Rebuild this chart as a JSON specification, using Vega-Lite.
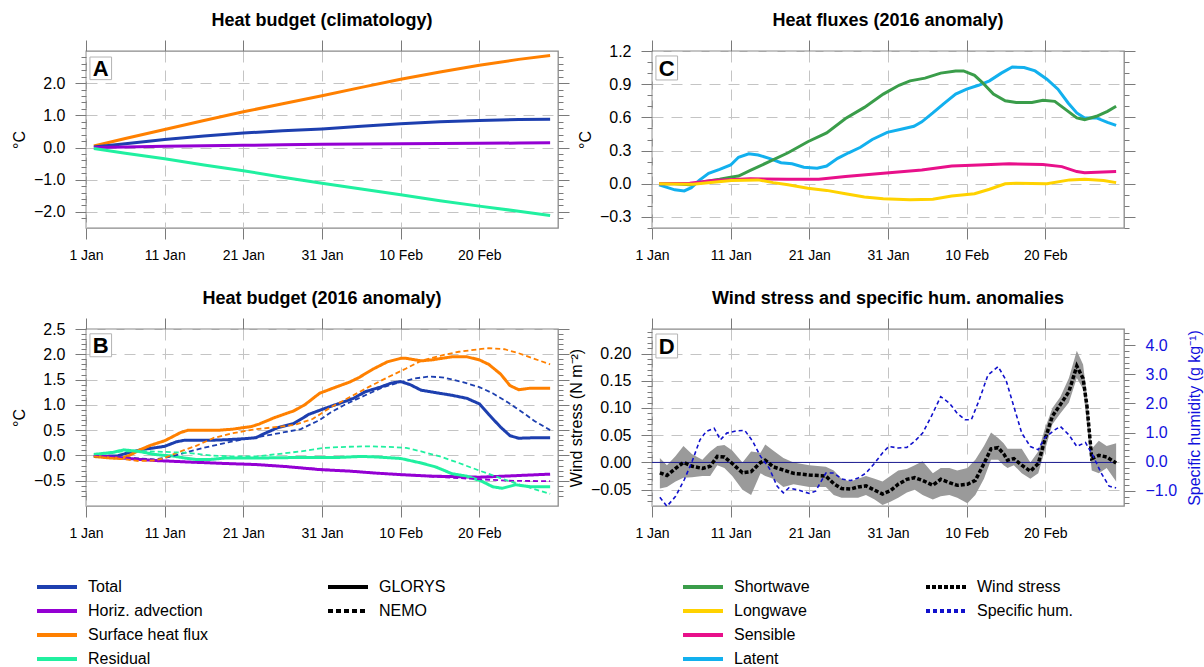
{
 "$schema": "https://vega.github.io/schema/vega-lite/v6.json",
 "background": "white",
 "padding": {"left": 10, "top": 10, "right": 0, "bottom": 0},
 "columns": 2,
 "bounds": "flush",
 "spacing": {"row": 101, "column": 94},
 "datasets": {
  "clim": [
   {"day":1,"value":0.05,"series":"Surface heat flux"},{"day":5,"value":0.28,"series":"Surface heat flux"},{"day":10,"value":0.56,"series":"Surface heat flux"},{"day":15,"value":0.84,"series":"Surface heat flux"},{"day":20,"value":1.11,"series":"Surface heat flux"},{"day":25,"value":1.36,"series":"Surface heat flux"},{"day":30,"value":1.61,"series":"Surface heat flux"},{"day":35,"value":1.87,"series":"Surface heat flux"},{"day":40,"value":2.12,"series":"Surface heat flux"},{"day":45,"value":2.35,"series":"Surface heat flux"},{"day":50,"value":2.56,"series":"Surface heat flux"},{"day":55,"value":2.74,"series":"Surface heat flux"},{"day":59,"value":2.86,"series":"Surface heat flux"},
   {"day":1,"value":0.02,"series":"Total"},{"day":5,"value":0.12,"series":"Total"},{"day":10,"value":0.25,"series":"Total"},{"day":15,"value":0.36,"series":"Total"},{"day":20,"value":0.45,"series":"Total"},{"day":25,"value":0.52,"series":"Total"},{"day":30,"value":0.58,"series":"Total"},{"day":35,"value":0.66,"series":"Total"},{"day":40,"value":0.74,"series":"Total"},{"day":45,"value":0.8,"series":"Total"},{"day":50,"value":0.84,"series":"Total"},{"day":55,"value":0.87,"series":"Total"},{"day":59,"value":0.88,"series":"Total"},
   {"day":1,"value":0.0,"series":"Horiz. advection"},{"day":5,"value":0.02,"series":"Horiz. advection"},{"day":10,"value":0.04,"series":"Horiz. advection"},{"day":15,"value":0.055,"series":"Horiz. advection"},{"day":20,"value":0.07,"series":"Horiz. advection"},{"day":25,"value":0.085,"series":"Horiz. advection"},{"day":30,"value":0.1,"series":"Horiz. advection"},{"day":35,"value":0.11,"series":"Horiz. advection"},{"day":40,"value":0.12,"series":"Horiz. advection"},{"day":45,"value":0.125,"series":"Horiz. advection"},{"day":50,"value":0.13,"series":"Horiz. advection"},{"day":55,"value":0.14,"series":"Horiz. advection"},{"day":59,"value":0.15,"series":"Horiz. advection"},
   {"day":1,"value":-0.03,"series":"Residual"},{"day":5,"value":-0.18,"series":"Residual"},{"day":10,"value":-0.35,"series":"Residual"},{"day":15,"value":-0.54,"series":"Residual"},{"day":20,"value":-0.72,"series":"Residual"},{"day":25,"value":-0.92,"series":"Residual"},{"day":30,"value":-1.11,"series":"Residual"},{"day":35,"value":-1.29,"series":"Residual"},{"day":40,"value":-1.47,"series":"Residual"},{"day":45,"value":-1.65,"series":"Residual"},{"day":50,"value":-1.82,"series":"Residual"},{"day":55,"value":-1.98,"series":"Residual"},{"day":59,"value":-2.11,"series":"Residual"}
  ],
  "anom": [
   {"day":1,"value":-0.02,"series":"Total","model":"GLORYS"},{"day":4,"value":-0.01,"series":"Total","model":"GLORYS"},{"day":5.3,"value":0.05,"series":"Total","model":"GLORYS"},{"day":7.2,"value":0.12,"series":"Total","model":"GLORYS"},{"day":8.7,"value":0.15,"series":"Total","model":"GLORYS"},{"day":10,"value":0.18,"series":"Total","model":"GLORYS"},{"day":11.5,"value":0.27,"series":"Total","model":"GLORYS"},{"day":12.5,"value":0.3,"series":"Total","model":"GLORYS"},{"day":14,"value":0.3,"series":"Total","model":"GLORYS"},{"day":16,"value":0.3,"series":"Total","model":"GLORYS"},{"day":17.8,"value":0.31,"series":"Total","model":"GLORYS"},{"day":20,"value":0.33,"series":"Total","model":"GLORYS"},{"day":21.6,"value":0.35,"series":"Total","model":"GLORYS"},{"day":22.5,"value":0.42,"series":"Total","model":"GLORYS"},{"day":24.4,"value":0.55,"series":"Total","model":"GLORYS"},{"day":26.4,"value":0.63,"series":"Total","model":"GLORYS"},{"day":28.3,"value":0.81,"series":"Total","model":"GLORYS"},{"day":30,"value":0.91,"series":"Total","model":"GLORYS"},{"day":31.1,"value":0.97,"series":"Total","model":"GLORYS"},{"day":32.6,"value":1.05,"series":"Total","model":"GLORYS"},{"day":34,"value":1.13,"series":"Total","model":"GLORYS"},{"day":35.5,"value":1.26,"series":"Total","model":"GLORYS"},{"day":37.4,"value":1.35,"series":"Total","model":"GLORYS"},{"day":38.8,"value":1.43,"series":"Total","model":"GLORYS"},{"day":40,"value":1.46,"series":"Total","model":"GLORYS"},{"day":41.2,"value":1.4,"series":"Total","model":"GLORYS"},{"day":42.6,"value":1.29,"series":"Total","model":"GLORYS"},{"day":44.5,"value":1.24,"series":"Total","model":"GLORYS"},{"day":46.5,"value":1.19,"series":"Total","model":"GLORYS"},{"day":48.4,"value":1.13,"series":"Total","model":"GLORYS"},{"day":50,"value":1.02,"series":"Total","model":"GLORYS"},{"day":51.2,"value":0.81,"series":"Total","model":"GLORYS"},{"day":52.7,"value":0.56,"series":"Total","model":"GLORYS"},{"day":53.9,"value":0.39,"series":"Total","model":"GLORYS"},{"day":55,"value":0.34,"series":"Total","model":"GLORYS"},{"day":57,"value":0.35,"series":"Total","model":"GLORYS"},{"day":59,"value":0.35,"series":"Total","model":"GLORYS"},
   {"day":1,"value":0.0,"series":"Horiz. advection","model":"GLORYS"},{"day":4.4,"value":-0.05,"series":"Horiz. advection","model":"GLORYS"},{"day":8.7,"value":-0.1,"series":"Horiz. advection","model":"GLORYS"},{"day":13,"value":-0.13,"series":"Horiz. advection","model":"GLORYS"},{"day":17.8,"value":-0.16,"series":"Horiz. advection","model":"GLORYS"},{"day":21.6,"value":-0.18,"series":"Horiz. advection","model":"GLORYS"},{"day":25.4,"value":-0.22,"series":"Horiz. advection","model":"GLORYS"},{"day":29.7,"value":-0.28,"series":"Horiz. advection","model":"GLORYS"},{"day":33.5,"value":-0.31,"series":"Horiz. advection","model":"GLORYS"},{"day":36.9,"value":-0.35,"series":"Horiz. advection","model":"GLORYS"},{"day":40,"value":-0.38,"series":"Horiz. advection","model":"GLORYS"},{"day":44,"value":-0.41,"series":"Horiz. advection","model":"GLORYS"},{"day":50,"value":-0.43,"series":"Horiz. advection","model":"GLORYS"},{"day":54.6,"value":-0.4,"series":"Horiz. advection","model":"GLORYS"},{"day":59,"value":-0.37,"series":"Horiz. advection","model":"GLORYS"},
   {"day":1,"value":-0.02,"series":"Surface heat flux","model":"GLORYS"},{"day":3,"value":-0.05,"series":"Surface heat flux","model":"GLORYS"},{"day":4.5,"value":-0.06,"series":"Surface heat flux","model":"GLORYS"},{"day":5.5,"value":0.0,"series":"Surface heat flux","model":"GLORYS"},{"day":6.7,"value":0.1,"series":"Surface heat flux","model":"GLORYS"},{"day":8.2,"value":0.2,"series":"Surface heat flux","model":"GLORYS"},{"day":10,"value":0.29,"series":"Surface heat flux","model":"GLORYS"},{"day":12,"value":0.45,"series":"Surface heat flux","model":"GLORYS"},{"day":13,"value":0.5,"series":"Surface heat flux","model":"GLORYS"},{"day":14.5,"value":0.5,"series":"Surface heat flux","model":"GLORYS"},{"day":17,"value":0.5,"series":"Surface heat flux","model":"GLORYS"},{"day":18.7,"value":0.52,"series":"Surface heat flux","model":"GLORYS"},{"day":20,"value":0.55,"series":"Surface heat flux","model":"GLORYS"},{"day":21,"value":0.57,"series":"Surface heat flux","model":"GLORYS"},{"day":22,"value":0.62,"series":"Surface heat flux","model":"GLORYS"},{"day":24,"value":0.75,"series":"Surface heat flux","model":"GLORYS"},{"day":26.4,"value":0.88,"series":"Surface heat flux","model":"GLORYS"},{"day":27.8,"value":1.0,"series":"Surface heat flux","model":"GLORYS"},{"day":29.7,"value":1.23,"series":"Surface heat flux","model":"GLORYS"},{"day":31.4,"value":1.33,"series":"Surface heat flux","model":"GLORYS"},{"day":33.5,"value":1.45,"series":"Surface heat flux","model":"GLORYS"},{"day":34.7,"value":1.54,"series":"Surface heat flux","model":"GLORYS"},{"day":36.4,"value":1.7,"series":"Surface heat flux","model":"GLORYS"},{"day":38.3,"value":1.85,"series":"Surface heat flux","model":"GLORYS"},{"day":40,"value":1.92,"series":"Surface heat flux","model":"GLORYS"},{"day":40.7,"value":1.92,"series":"Surface heat flux","model":"GLORYS"},{"day":42.6,"value":1.87,"series":"Surface heat flux","model":"GLORYS"},{"day":44,"value":1.89,"series":"Surface heat flux","model":"GLORYS"},{"day":46.5,"value":1.95,"series":"Surface heat flux","model":"GLORYS"},{"day":48.4,"value":1.95,"series":"Surface heat flux","model":"GLORYS"},{"day":50,"value":1.89,"series":"Surface heat flux","model":"GLORYS"},{"day":51.2,"value":1.8,"series":"Surface heat flux","model":"GLORYS"},{"day":52.7,"value":1.61,"series":"Surface heat flux","model":"GLORYS"},{"day":53.9,"value":1.38,"series":"Surface heat flux","model":"GLORYS"},{"day":55,"value":1.3,"series":"Surface heat flux","model":"GLORYS"},{"day":56.5,"value":1.33,"series":"Surface heat flux","model":"GLORYS"},{"day":59,"value":1.33,"series":"Surface heat flux","model":"GLORYS"},
   {"day":1,"value":0.02,"series":"Residual","model":"GLORYS"},{"day":3.4,"value":0.06,"series":"Residual","model":"GLORYS"},{"day":4.8,"value":0.11,"series":"Residual","model":"GLORYS"},{"day":6.7,"value":0.08,"series":"Residual","model":"GLORYS"},{"day":7.7,"value":0.05,"series":"Residual","model":"GLORYS"},{"day":8.7,"value":0.02,"series":"Residual","model":"GLORYS"},{"day":10,"value":0.0,"series":"Residual","model":"GLORYS"},{"day":11,"value":-0.01,"series":"Residual","model":"GLORYS"},{"day":12.5,"value":-0.05,"series":"Residual","model":"GLORYS"},{"day":14,"value":-0.08,"series":"Residual","model":"GLORYS"},{"day":15.8,"value":-0.08,"series":"Residual","model":"GLORYS"},{"day":17.8,"value":-0.05,"series":"Residual","model":"GLORYS"},{"day":22.5,"value":-0.05,"series":"Residual","model":"GLORYS"},{"day":27.3,"value":-0.04,"series":"Residual","model":"GLORYS"},{"day":32.1,"value":-0.04,"series":"Residual","model":"GLORYS"},{"day":35,"value":-0.02,"series":"Residual","model":"GLORYS"},{"day":36.9,"value":-0.03,"series":"Residual","model":"GLORYS"},{"day":40,"value":-0.06,"series":"Residual","model":"GLORYS"},{"day":42.6,"value":-0.15,"series":"Residual","model":"GLORYS"},{"day":44.5,"value":-0.23,"series":"Residual","model":"GLORYS"},{"day":46.5,"value":-0.36,"series":"Residual","model":"GLORYS"},{"day":48.4,"value":-0.41,"series":"Residual","model":"GLORYS"},{"day":50.3,"value":-0.51,"series":"Residual","model":"GLORYS"},{"day":51.7,"value":-0.62,"series":"Residual","model":"GLORYS"},{"day":52.9,"value":-0.65,"series":"Residual","model":"GLORYS"},{"day":54.6,"value":-0.58,"series":"Residual","model":"GLORYS"},{"day":56.5,"value":-0.62,"series":"Residual","model":"GLORYS"},{"day":59,"value":-0.62,"series":"Residual","model":"GLORYS"},
   {"day":1,"value":-0.02,"series":"Total","model":"NEMO"},{"day":5.8,"value":-0.05,"series":"Total","model":"NEMO"},{"day":8.7,"value":-0.08,"series":"Total","model":"NEMO"},{"day":10.6,"value":-0.03,"series":"Total","model":"NEMO"},{"day":12.5,"value":0.05,"series":"Total","model":"NEMO"},{"day":14.9,"value":0.15,"series":"Total","model":"NEMO"},{"day":17.8,"value":0.25,"series":"Total","model":"NEMO"},{"day":20.1,"value":0.32,"series":"Total","model":"NEMO"},{"day":22.5,"value":0.38,"series":"Total","model":"NEMO"},{"day":24.9,"value":0.45,"series":"Total","model":"NEMO"},{"day":27.3,"value":0.52,"series":"Total","model":"NEMO"},{"day":29.7,"value":0.7,"series":"Total","model":"NEMO"},{"day":31.1,"value":0.85,"series":"Total","model":"NEMO"},{"day":33.1,"value":1.02,"series":"Total","model":"NEMO"},{"day":35.5,"value":1.19,"series":"Total","model":"NEMO"},{"day":37.8,"value":1.35,"series":"Total","model":"NEMO"},{"day":40,"value":1.45,"series":"Total","model":"NEMO"},{"day":41.7,"value":1.52,"series":"Total","model":"NEMO"},{"day":43.6,"value":1.56,"series":"Total","model":"NEMO"},{"day":45.5,"value":1.54,"series":"Total","model":"NEMO"},{"day":47.9,"value":1.45,"series":"Total","model":"NEMO"},{"day":50,"value":1.35,"series":"Total","model":"NEMO"},{"day":51.7,"value":1.23,"series":"Total","model":"NEMO"},{"day":53.6,"value":1.05,"series":"Total","model":"NEMO"},{"day":55.6,"value":0.84,"series":"Total","model":"NEMO"},{"day":57,"value":0.68,"series":"Total","model":"NEMO"},{"day":59,"value":0.5,"series":"Total","model":"NEMO"},
   {"day":1,"value":0.0,"series":"Horiz. advection","model":"NEMO"},{"day":5,"value":-0.05,"series":"Horiz. advection","model":"NEMO"},{"day":8.7,"value":-0.09,"series":"Horiz. advection","model":"NEMO"},{"day":13,"value":-0.13,"series":"Horiz. advection","model":"NEMO"},{"day":17.8,"value":-0.16,"series":"Horiz. advection","model":"NEMO"},{"day":21.6,"value":-0.18,"series":"Horiz. advection","model":"NEMO"},{"day":25.4,"value":-0.22,"series":"Horiz. advection","model":"NEMO"},{"day":29.7,"value":-0.27,"series":"Horiz. advection","model":"NEMO"},{"day":33.5,"value":-0.31,"series":"Horiz. advection","model":"NEMO"},{"day":36.9,"value":-0.35,"series":"Horiz. advection","model":"NEMO"},{"day":40,"value":-0.38,"series":"Horiz. advection","model":"NEMO"},{"day":44,"value":-0.42,"series":"Horiz. advection","model":"NEMO"},{"day":50,"value":-0.47,"series":"Horiz. advection","model":"NEMO"},{"day":53.6,"value":-0.5,"series":"Horiz. advection","model":"NEMO"},{"day":59,"value":-0.51,"series":"Horiz. advection","model":"NEMO"},
   {"day":1,"value":-0.02,"series":"Surface heat flux","model":"NEMO"},{"day":4,"value":-0.06,"series":"Surface heat flux","model":"NEMO"},{"day":6.7,"value":-0.11,"series":"Surface heat flux","model":"NEMO"},{"day":8.7,"value":-0.1,"series":"Surface heat flux","model":"NEMO"},{"day":10,"value":-0.05,"series":"Surface heat flux","model":"NEMO"},{"day":11.5,"value":0.05,"series":"Surface heat flux","model":"NEMO"},{"day":14,"value":0.19,"series":"Surface heat flux","model":"NEMO"},{"day":16.3,"value":0.35,"series":"Surface heat flux","model":"NEMO"},{"day":18.7,"value":0.44,"series":"Surface heat flux","model":"NEMO"},{"day":21.6,"value":0.52,"series":"Surface heat flux","model":"NEMO"},{"day":23.5,"value":0.55,"series":"Surface heat flux","model":"NEMO"},{"day":26.4,"value":0.6,"series":"Surface heat flux","model":"NEMO"},{"day":28.8,"value":0.72,"series":"Surface heat flux","model":"NEMO"},{"day":31.1,"value":0.95,"series":"Surface heat flux","model":"NEMO"},{"day":33.5,"value":1.15,"series":"Surface heat flux","model":"NEMO"},{"day":35.9,"value":1.35,"series":"Surface heat flux","model":"NEMO"},{"day":38.3,"value":1.54,"series":"Surface heat flux","model":"NEMO"},{"day":40.7,"value":1.72,"series":"Surface heat flux","model":"NEMO"},{"day":42.6,"value":1.87,"series":"Surface heat flux","model":"NEMO"},{"day":45.5,"value":1.99,"series":"Surface heat flux","model":"NEMO"},{"day":47.4,"value":2.05,"series":"Surface heat flux","model":"NEMO"},{"day":50,"value":2.1,"series":"Surface heat flux","model":"NEMO"},{"day":51.2,"value":2.12,"series":"Surface heat flux","model":"NEMO"},{"day":53.2,"value":2.1,"series":"Surface heat flux","model":"NEMO"},{"day":55,"value":2.02,"series":"Surface heat flux","model":"NEMO"},{"day":57,"value":1.91,"series":"Surface heat flux","model":"NEMO"},{"day":59,"value":1.8,"series":"Surface heat flux","model":"NEMO"},
   {"day":1,"value":0.02,"series":"Residual","model":"NEMO"},{"day":3.4,"value":0.06,"series":"Residual","model":"NEMO"},{"day":4.8,"value":0.08,"series":"Residual","model":"NEMO"},{"day":8.2,"value":0.08,"series":"Residual","model":"NEMO"},{"day":10,"value":0.07,"series":"Residual","model":"NEMO"},{"day":13,"value":0.05,"series":"Residual","model":"NEMO"},{"day":15.8,"value":0.0,"series":"Residual","model":"NEMO"},{"day":18.7,"value":-0.02,"series":"Residual","model":"NEMO"},{"day":21.6,"value":-0.02,"series":"Residual","model":"NEMO"},{"day":24,"value":0.02,"series":"Residual","model":"NEMO"},{"day":27.3,"value":0.08,"series":"Residual","model":"NEMO"},{"day":30.2,"value":0.15,"series":"Residual","model":"NEMO"},{"day":33.1,"value":0.17,"series":"Residual","model":"NEMO"},{"day":35.9,"value":0.18,"series":"Residual","model":"NEMO"},{"day":38.3,"value":0.17,"series":"Residual","model":"NEMO"},{"day":40.7,"value":0.15,"series":"Residual","model":"NEMO"},{"day":42.6,"value":0.08,"series":"Residual","model":"NEMO"},{"day":45,"value":-0.02,"series":"Residual","model":"NEMO"},{"day":47.4,"value":-0.15,"series":"Residual","model":"NEMO"},{"day":50,"value":-0.3,"series":"Residual","model":"NEMO"},{"day":52.7,"value":-0.45,"series":"Residual","model":"NEMO"},{"day":55.6,"value":-0.6,"series":"Residual","model":"NEMO"},{"day":59,"value":-0.76,"series":"Residual","model":"NEMO"}
  ],
  "flux": [
   {"day":0.9,"value":-0.01,"series":"Latent"},{"day":2.9,"value":-0.055,"series":"Latent"},{"day":4.1,"value":-0.065,"series":"Latent"},{"day":5,"value":-0.035,"series":"Latent"},{"day":6,"value":0.03,"series":"Latent"},{"day":7.2,"value":0.095,"series":"Latent"},{"day":8.6,"value":0.13,"series":"Latent"},{"day":10,"value":0.17,"series":"Latent"},{"day":11,"value":0.24,"series":"Latent"},{"day":12.3,"value":0.27,"series":"Latent"},{"day":13.5,"value":0.26,"series":"Latent"},{"day":14.9,"value":0.23,"series":"Latent"},{"day":16.4,"value":0.19,"series":"Latent"},{"day":17.8,"value":0.18,"series":"Latent"},{"day":19.3,"value":0.15,"series":"Latent"},{"day":21,"value":0.14,"series":"Latent"},{"day":22.2,"value":0.16,"series":"Latent"},{"day":23.6,"value":0.23,"series":"Latent"},{"day":25,"value":0.28,"series":"Latent"},{"day":26.5,"value":0.33,"series":"Latent"},{"day":28,"value":0.4,"series":"Latent"},{"day":29.9,"value":0.465,"series":"Latent"},{"day":31.8,"value":0.495,"series":"Latent"},{"day":33.3,"value":0.52,"series":"Latent"},{"day":34.3,"value":0.56,"series":"Latent"},{"day":35.7,"value":0.64,"series":"Latent"},{"day":37.1,"value":0.725,"series":"Latent"},{"day":38.6,"value":0.81,"series":"Latent"},{"day":40,"value":0.855,"series":"Latent"},{"day":41.5,"value":0.89,"series":"Latent"},{"day":42.9,"value":0.93,"series":"Latent"},{"day":44.4,"value":1.0,"series":"Latent"},{"day":45.8,"value":1.055,"series":"Latent"},{"day":47.3,"value":1.05,"series":"Latent"},{"day":48.7,"value":1.02,"series":"Latent"},{"day":50.2,"value":0.945,"series":"Latent"},{"day":51.6,"value":0.855,"series":"Latent"},{"day":52.9,"value":0.73,"series":"Latent"},{"day":54,"value":0.64,"series":"Latent"},{"day":55,"value":0.595,"series":"Latent"},{"day":56.5,"value":0.595,"series":"Latent"},{"day":57.9,"value":0.555,"series":"Latent"},{"day":59,"value":0.527,"series":"Latent"},
   {"day":0.9,"value":0.0,"series":"Shortwave"},{"day":2.9,"value":0.0,"series":"Shortwave"},{"day":4.8,"value":-0.01,"series":"Shortwave"},{"day":6.8,"value":0.02,"series":"Shortwave"},{"day":8.6,"value":0.04,"series":"Shortwave"},{"day":10,"value":0.06,"series":"Shortwave"},{"day":11,"value":0.07,"series":"Shortwave"},{"day":12.5,"value":0.12,"series":"Shortwave"},{"day":14.9,"value":0.2,"series":"Shortwave"},{"day":17.3,"value":0.28,"series":"Shortwave"},{"day":19.8,"value":0.38,"series":"Shortwave"},{"day":22.2,"value":0.46,"series":"Shortwave"},{"day":24.6,"value":0.59,"series":"Shortwave"},{"day":27,"value":0.69,"series":"Shortwave"},{"day":29.4,"value":0.81,"series":"Shortwave"},{"day":31.4,"value":0.89,"series":"Shortwave"},{"day":32.8,"value":0.93,"series":"Shortwave"},{"day":34.7,"value":0.955,"series":"Shortwave"},{"day":36.7,"value":1.0,"series":"Shortwave"},{"day":38.6,"value":1.02,"series":"Shortwave"},{"day":39.6,"value":1.02,"series":"Shortwave"},{"day":41,"value":0.98,"series":"Shortwave"},{"day":42,"value":0.915,"series":"Shortwave"},{"day":43.4,"value":0.81,"series":"Shortwave"},{"day":44.9,"value":0.75,"series":"Shortwave"},{"day":46.3,"value":0.735,"series":"Shortwave"},{"day":48.3,"value":0.735,"series":"Shortwave"},{"day":49.7,"value":0.755,"series":"Shortwave"},{"day":51.2,"value":0.745,"series":"Shortwave"},{"day":52.6,"value":0.67,"series":"Shortwave"},{"day":54,"value":0.595,"series":"Shortwave"},{"day":55,"value":0.58,"series":"Shortwave"},{"day":56.5,"value":0.61,"series":"Shortwave"},{"day":57.9,"value":0.655,"series":"Shortwave"},{"day":59,"value":0.7,"series":"Shortwave"},
   {"day":0.9,"value":0.0,"series":"Sensible"},{"day":4.8,"value":0.005,"series":"Sensible"},{"day":7.7,"value":0.03,"series":"Sensible"},{"day":12.5,"value":0.045,"series":"Sensible"},{"day":17.3,"value":0.04,"series":"Sensible"},{"day":21.2,"value":0.04,"series":"Sensible"},{"day":24.6,"value":0.065,"series":"Sensible"},{"day":29.4,"value":0.095,"series":"Sensible"},{"day":34.3,"value":0.125,"series":"Sensible"},{"day":38.1,"value":0.16,"series":"Sensible"},{"day":41.5,"value":0.17,"series":"Sensible"},{"day":45.4,"value":0.18,"series":"Sensible"},{"day":49.7,"value":0.175,"series":"Sensible"},{"day":52.1,"value":0.155,"series":"Sensible"},{"day":54,"value":0.11,"series":"Sensible"},{"day":55,"value":0.1,"series":"Sensible"},{"day":59,"value":0.11,"series":"Sensible"},
   {"day":0.9,"value":0.0,"series":"Longwave"},{"day":5.2,"value":-0.005,"series":"Longwave"},{"day":10.1,"value":0.03,"series":"Longwave"},{"day":13.5,"value":0.035,"series":"Longwave"},{"day":15.4,"value":0.01,"series":"Longwave"},{"day":17.3,"value":-0.01,"series":"Longwave"},{"day":19.8,"value":-0.04,"series":"Longwave"},{"day":22.2,"value":-0.06,"series":"Longwave"},{"day":24.6,"value":-0.09,"series":"Longwave"},{"day":27,"value":-0.12,"series":"Longwave"},{"day":29.4,"value":-0.135,"series":"Longwave"},{"day":32.8,"value":-0.145,"series":"Longwave"},{"day":35.7,"value":-0.14,"series":"Longwave"},{"day":38.1,"value":-0.11,"series":"Longwave"},{"day":41,"value":-0.09,"series":"Longwave"},{"day":42.9,"value":-0.05,"series":"Longwave"},{"day":44.9,"value":0.0,"series":"Longwave"},{"day":46.3,"value":0.005,"series":"Longwave"},{"day":50.2,"value":0.0,"series":"Longwave"},{"day":53.1,"value":0.035,"series":"Longwave"},{"day":55,"value":0.04,"series":"Longwave"},{"day":57.4,"value":0.03,"series":"Longwave"},{"day":59,"value":0.01,"series":"Longwave"}
  ],
  "wind": [
   {"day":1,"ws":-0.019,"lo":-0.048,"hi":0.008,"var":"Wind stress"},{"day":1.9,"ws":-0.024,"lo":-0.045,"hi":-0.005,"var":"Wind stress"},{"day":3,"ws":-0.011,"lo":-0.035,"hi":0.012,"var":"Wind stress"},{"day":4,"ws":0.0,"lo":-0.028,"hi":0.03,"var":"Wind stress"},{"day":5.1,"ws":-0.007,"lo":-0.027,"hi":0.015,"var":"Wind stress"},{"day":6.4,"ws":-0.011,"lo":-0.025,"hi":0.005,"var":"Wind stress"},{"day":7.4,"ws":-0.007,"lo":-0.025,"hi":0.02,"var":"Wind stress"},{"day":8.3,"ws":0.011,"lo":-0.005,"hi":0.03,"var":"Wind stress"},{"day":9.2,"ws":0.01,"lo":-0.01,"hi":0.032,"var":"Wind stress"},{"day":10.2,"ws":-0.002,"lo":-0.025,"hi":0.022,"var":"Wind stress"},{"day":11.5,"ws":-0.019,"lo":-0.05,"hi":0.0,"var":"Wind stress"},{"day":12.6,"ws":-0.017,"lo":-0.06,"hi":0.02,"var":"Wind stress"},{"day":13.8,"ws":0.0,"lo":-0.02,"hi":0.018,"var":"Wind stress"},{"day":14.4,"ws":0.004,"lo":-0.025,"hi":0.033,"var":"Wind stress"},{"day":15.4,"ws":-0.008,"lo":-0.03,"hi":0.022,"var":"Wind stress"},{"day":16.7,"ws":-0.014,"lo":-0.045,"hi":0.008,"var":"Wind stress"},{"day":18,"ws":-0.02,"lo":-0.04,"hi":0.0,"var":"Wind stress"},{"day":20,"ws":-0.023,"lo":-0.045,"hi":-0.005,"var":"Wind stress"},{"day":22.1,"ws":-0.025,"lo":-0.045,"hi":-0.008,"var":"Wind stress"},{"day":23.1,"ws":-0.039,"lo":-0.06,"hi":-0.015,"var":"Wind stress"},{"day":24.1,"ws":-0.048,"lo":-0.065,"hi":-0.03,"var":"Wind stress"},{"day":25.2,"ws":-0.049,"lo":-0.065,"hi":-0.035,"var":"Wind stress"},{"day":26.2,"ws":-0.045,"lo":-0.065,"hi":-0.03,"var":"Wind stress"},{"day":27.2,"ws":-0.043,"lo":-0.06,"hi":-0.025,"var":"Wind stress"},{"day":28.3,"ws":-0.051,"lo":-0.068,"hi":-0.03,"var":"Wind stress"},{"day":29.3,"ws":-0.058,"lo":-0.078,"hi":-0.035,"var":"Wind stress"},{"day":30.3,"ws":-0.052,"lo":-0.072,"hi":-0.025,"var":"Wind stress"},{"day":31.3,"ws":-0.04,"lo":-0.065,"hi":-0.015,"var":"Wind stress"},{"day":32.4,"ws":-0.031,"lo":-0.055,"hi":-0.012,"var":"Wind stress"},{"day":33.4,"ws":-0.028,"lo":-0.05,"hi":-0.005,"var":"Wind stress"},{"day":34.4,"ws":-0.033,"lo":-0.06,"hi":0.002,"var":"Wind stress"},{"day":35.7,"ws":-0.042,"lo":-0.068,"hi":-0.02,"var":"Wind stress"},{"day":36.7,"ws":-0.031,"lo":-0.062,"hi":-0.01,"var":"Wind stress"},{"day":37.8,"ws":-0.037,"lo":-0.06,"hi":-0.01,"var":"Wind stress"},{"day":38.8,"ws":-0.042,"lo":-0.065,"hi":-0.015,"var":"Wind stress"},{"day":40.1,"ws":-0.04,"lo":-0.075,"hi":-0.01,"var":"Wind stress"},{"day":41.1,"ws":-0.033,"lo":-0.06,"hi":0.005,"var":"Wind stress"},{"day":42.2,"ws":-0.002,"lo":-0.03,"hi":0.03,"var":"Wind stress"},{"day":43.1,"ws":0.025,"lo":0.005,"hi":0.055,"var":"Wind stress"},{"day":44,"ws":0.027,"lo":0.005,"hi":0.045,"var":"Wind stress"},{"day":44.7,"ws":0.016,"lo":-0.005,"hi":0.035,"var":"Wind stress"},{"day":45.2,"ws":0.004,"lo":-0.01,"hi":0.025,"var":"Wind stress"},{"day":46,"ws":0.007,"lo":-0.005,"hi":0.025,"var":"Wind stress"},{"day":47,"ws":-0.005,"lo":-0.02,"hi":0.025,"var":"Wind stress"},{"day":48.1,"ws":-0.016,"lo":-0.03,"hi":0.0,"var":"Wind stress"},{"day":49.1,"ws":-0.002,"lo":-0.02,"hi":0.02,"var":"Wind stress"},{"day":49.9,"ws":0.04,"lo":0.02,"hi":0.06,"var":"Wind stress"},{"day":50.9,"ws":0.085,"lo":0.07,"hi":0.1,"var":"Wind stress"},{"day":51.9,"ws":0.106,"lo":0.09,"hi":0.12,"var":"Wind stress"},{"day":53,"ws":0.13,"lo":0.11,"hi":0.155,"var":"Wind stress"},{"day":54,"ws":0.177,"lo":0.155,"hi":0.205,"var":"Wind stress"},{"day":54.8,"ws":0.154,"lo":0.135,"hi":0.18,"var":"Wind stress"},{"day":55.3,"ws":0.103,"lo":0.07,"hi":0.12,"var":"Wind stress"},{"day":55.9,"ws":0.007,"lo":-0.015,"hi":0.025,"var":"Wind stress"},{"day":56.8,"ws":0.013,"lo":-0.02,"hi":0.04,"var":"Wind stress"},{"day":57.8,"ws":0.01,"lo":-0.01,"hi":0.03,"var":"Wind stress"},{"day":59,"ws":-0.001,"lo":-0.035,"hi":0.035,"var":"Wind stress"}
  ],
  "hum": [
   {"day":1,"q":-1.22,"var":"Specific hum."},{"day":1.9,"q":-1.53,"var":"Specific hum."},{"day":3,"q":-1.19,"var":"Specific hum."},{"day":4.1,"q":-0.62,"var":"Specific hum."},{"day":5.1,"q":0.01,"var":"Specific hum."},{"day":6.1,"q":0.75,"var":"Specific hum."},{"day":6.9,"q":1.04,"var":"Specific hum."},{"day":7.9,"q":1.15,"var":"Specific hum."},{"day":8.7,"q":0.75,"var":"Specific hum."},{"day":9.5,"q":0.98,"var":"Specific hum."},{"day":10.8,"q":1.06,"var":"Specific hum."},{"day":11.8,"q":1.07,"var":"Specific hum."},{"day":12.8,"q":0.7,"var":"Specific hum."},{"day":13.8,"q":0.18,"var":"Specific hum."},{"day":14.9,"q":-0.22,"var":"Specific hum."},{"day":15.9,"q":-0.84,"var":"Specific hum."},{"day":16.7,"q":-1.07,"var":"Specific hum."},{"day":17.4,"q":-0.9,"var":"Specific hum."},{"day":18.7,"q":-0.98,"var":"Specific hum."},{"day":20,"q":-1.09,"var":"Specific hum."},{"day":20.8,"q":-1.01,"var":"Specific hum."},{"day":22.1,"q":-0.39,"var":"Specific hum."},{"day":23.1,"q":-0.39,"var":"Specific hum."},{"day":24.1,"q":-0.59,"var":"Specific hum."},{"day":25.2,"q":-0.65,"var":"Specific hum."},{"day":26.2,"q":-0.56,"var":"Specific hum."},{"day":27.2,"q":-0.39,"var":"Specific hum."},{"day":28.3,"q":-0.05,"var":"Specific hum."},{"day":29.3,"q":0.3,"var":"Specific hum."},{"day":30.1,"q":0.52,"var":"Specific hum."},{"day":31.3,"q":0.47,"var":"Specific hum."},{"day":32.4,"q":0.49,"var":"Specific hum."},{"day":33.4,"q":0.7,"var":"Specific hum."},{"day":34.4,"q":0.98,"var":"Specific hum."},{"day":35.5,"q":1.55,"var":"Specific hum."},{"day":36.7,"q":2.23,"var":"Specific hum."},{"day":37.8,"q":2.01,"var":"Specific hum."},{"day":38.8,"q":1.66,"var":"Specific hum."},{"day":39.8,"q":1.44,"var":"Specific hum."},{"day":40.6,"q":1.44,"var":"Specific hum."},{"day":41.6,"q":2.12,"var":"Specific hum."},{"day":42.7,"q":2.97,"var":"Specific hum."},{"day":44,"q":3.26,"var":"Specific hum."},{"day":45,"q":2.8,"var":"Specific hum."},{"day":46,"q":1.89,"var":"Specific hum."},{"day":47,"q":0.98,"var":"Specific hum."},{"day":48.1,"q":0.52,"var":"Specific hum."},{"day":49.1,"q":0.41,"var":"Specific hum."},{"day":49.9,"q":0.81,"var":"Specific hum."},{"day":51.2,"q":1.09,"var":"Specific hum."},{"day":51.9,"q":1.21,"var":"Specific hum."},{"day":53,"q":0.92,"var":"Specific hum."},{"day":54,"q":0.52,"var":"Specific hum."},{"day":55.1,"q":0.66,"var":"Specific hum."},{"day":56.1,"q":0.18,"var":"Specific hum."},{"day":57.1,"q":-0.39,"var":"Specific hum."},{"day":58.1,"q":-0.84,"var":"Specific hum."},{"day":59,"q":-0.9,"var":"Specific hum."}
  ]
 },
 "concat": [
  {
   "title": "Heat budget (climatology)",
   "width": 472, "height": 177,
   "layer": [
    {
     "data": {"name": "clim"},
     "mark": {"type": "line", "strokeWidth": 3},
     "encoding": {
      "x": {"field": "day", "type": "quantitative", "scale": {"domain": [0, 59]},
            "axis": {"values": [0,10,20,30,40,50], "labelExpr": "['1 Jan','11 Jan','21 Jan','31 Jan','10 Feb','20 Feb'][round(datum.value/10)]", "title": null, "labelFlush": false}},
      "y": {"field": "value", "type": "quantitative", "scale": {"domain": [-2.23, 2.96]},
            "axis": {"values": [-2,-1,0,1,2], "format": ".1f", "title": "°C"}},
      "color": {"field": "series", "type": "nominal", "legend": null,
                "scale": {"domain": ["Total","Horiz. advection","Surface heat flux","Residual"], "range": ["#1d3faf","#9400d3","#ff8000","#20f0a0"]}}
     }
    },
    {
     "data": {"values": [{}]},
     "mark": {"type": "point", "opacity": 0},
     "encoding": {
      "x": {"datum": 0, "type": "quantitative", "axis": {"orient": "top", "values": [0,10,20,30,40,50], "labels": false, "grid": false, "title": null}},
      "y": {"datum": 0, "type": "quantitative", "axis": {"orient": "right", "values": [-2,-1,0,1,2], "labels": false, "grid": false, "title": null}}
     }
    },
    {
     "data": {"values": [{}]},
     "mark": {"type": "point", "opacity": 0},
     "encoding": {
      "x": {"datum": 0, "type": "quantitative", "axis": null},
      "y": {"datum": 0, "type": "quantitative", "axis": {"orient": "left", "values": [-2.2,-1.8,-1.6,-1.4,-1.2,-0.8,-0.6,-0.4,-0.2,0.2,0.4,0.6,0.8,1.2,1.4,1.6,1.8,2.2,2.4,2.6,2.8], "labels": false, "grid": false, "title": null, "tickSize": 5}}
     }
    },
    {
     "data": {"values": [{}]},
     "mark": {"type": "point", "opacity": 0},
     "encoding": {
      "x": {"datum": 0, "type": "quantitative", "axis": null},
      "y": {"datum": 0, "type": "quantitative", "axis": {"orient": "right", "values": [-2.2,-1.8,-1.6,-1.4,-1.2,-0.8,-0.6,-0.4,-0.2,0.2,0.4,0.6,0.8,1.2,1.4,1.6,1.8,2.2,2.4,2.6,2.8], "labels": false, "grid": false, "title": null, "tickSize": 5}}
     }
    },
    {
     "data": {"values": [{}]},
     "mark": {"type": "rect", "fill": "white", "stroke": "#b4b4b4", "strokeWidth": 1},
     "encoding": {
      "x": {"datum": 0.5, "type": "quantitative", "axis": null}, "x2": {"datum": 3.25},
      "y": {"datum": 2.813, "type": "quantitative", "axis": null}, "y2": {"datum": 2.11}
     }
    },
    {
     "data": {"values": [{}]},
     "mark": {"type": "text", "text": "A", "fontSize": 22, "fontWeight": "bold", "align": "center", "baseline": "middle", "dy": 1},
     "encoding": {
      "x": {"datum": 1.875, "type": "quantitative", "axis": null},
      "y": {"datum": 2.46, "type": "quantitative", "axis": null}
     }
    }
   ],
   "resolve": {"axis": {"x": "independent", "y": "independent"}}
  },
  {
   "title": "Heat fluxes (2016 anomaly)",
   "width": 472, "height": 177,
   "layer": [
    {
     "data": {"name": "flux"},
     "mark": {"type": "line", "strokeWidth": 3},
     "encoding": {
      "x": {"field": "day", "type": "quantitative", "scale": {"domain": [0, 59]},
            "axis": {"values": [0,10,20,30,40,50], "labelExpr": "['1 Jan','11 Jan','21 Jan','31 Jan','10 Feb','20 Feb'][round(datum.value/10)]", "title": null, "labelFlush": false}},
      "y": {"field": "value", "type": "quantitative", "scale": {"domain": [-0.4, 1.2]},
            "axis": {"values": [-0.3,0,0.3,0.6,0.9,1.2], "format": ".1f", "title": "°C"}},
      "color": {"field": "series", "type": "nominal",
                "scale": {"domain": ["Shortwave","Longwave","Sensible","Latent"], "range": ["#3a9d4a","#ffd200","#e8108a","#12b0ee"]},
                "legend": {"title": null, "orient": "none", "legendX": 39, "legendY": 524}}
     }
    },
    {
     "data": {"values": [{}]},
     "mark": {"type": "point", "opacity": 0},
     "encoding": {
      "x": {"datum": 0, "type": "quantitative", "axis": {"orient": "top", "values": [0,10,20,30,40,50], "labels": false, "grid": false, "title": null}},
      "y": {"datum": 0, "type": "quantitative", "axis": {"orient": "right", "values": [-0.3,0,0.3,0.6,0.9,1.2], "labels": false, "grid": false, "title": null}}
     }
    },
    {
     "data": {"values": [{}]},
     "mark": {"type": "point", "opacity": 0},
     "encoding": {
      "x": {"datum": 0, "type": "quantitative", "axis": null},
      "y": {"datum": 0, "type": "quantitative", "axis": {"orient": "left", "values": [-0.4,-0.2,-0.1,0.1,0.2,0.4,0.5,0.7,0.8,1.0,1.1], "labels": false, "grid": false, "title": null, "tickSize": 5}}
     }
    },
    {
     "data": {"values": [{}]},
     "mark": {"type": "point", "opacity": 0},
     "encoding": {
      "x": {"datum": 0, "type": "quantitative", "axis": null},
      "y": {"datum": 0, "type": "quantitative", "axis": {"orient": "right", "values": [-0.4,-0.2,-0.1,0.1,0.2,0.4,0.5,0.7,0.8,1.0,1.1], "labels": false, "grid": false, "title": null, "tickSize": 5}}
     }
    },
    {
     "data": {"values": [{}]},
     "mark": {"type": "rect", "fill": "white", "stroke": "#b4b4b4", "strokeWidth": 1},
     "encoding": {
      "x": {"datum": 0.5, "type": "quantitative", "axis": null}, "x2": {"datum": 3.25},
      "y": {"datum": 1.155, "type": "quantitative", "axis": null}, "y2": {"datum": 0.938}
     }
    },
    {
     "data": {"values": [{}]},
     "mark": {"type": "text", "text": "C", "fontSize": 22, "fontWeight": "bold", "align": "center", "baseline": "middle", "dy": 1},
     "encoding": {
      "x": {"datum": 1.875, "type": "quantitative", "axis": null},
      "y": {"datum": 1.046, "type": "quantitative", "axis": null}
     }
    }
   ],
   "resolve": {"axis": {"x": "independent", "y": "independent"}}
  },
  {
   "title": "Heat budget (2016 anomaly)",
   "width": 472, "height": 177,
   "layer": [
    {
     "data": {"name": "anom"},
     "transform": [{"filter": "datum.model === 'GLORYS'"}],
     "mark": {"type": "line", "color": "black", "strokeWidth": 3},
     "encoding": {
      "x": {"field": "day", "type": "quantitative", "scale": {"domain": [0, 59]},
            "axis": {"values": [0,10,20,30,40,50], "labelExpr": "['1 Jan','11 Jan','21 Jan','31 Jan','10 Feb','20 Feb'][round(datum.value/10)]", "title": null, "labelFlush": false}},
      "y": {"field": "value", "type": "quantitative", "scale": {"domain": [-0.85, 2.5]},
            "axis": {"values": [-0.5,0,0.5,1,1.5,2,2.5], "format": ".1f", "title": "°C"}},
      "color": {"field": "series", "type": "nominal",
                "scale": {"domain": ["Total","Horiz. advection","Surface heat flux","Residual"], "range": ["#1d3faf","#9400d3","#ff8000","#20f0a0"]},
                "legend": {"title": null, "orient": "none", "legendX": -41, "legendY": 246}},
      "strokeDash": {"field": "model", "type": "nominal",
                "scale": {"domain": ["GLORYS","NEMO"], "range": [[1,0],[5,3]]},
                "legend": {"title": null, "orient": "none", "legendX": 250, "legendY": 246, "symbolStrokeColor": "black"}}
     }
    },
    {
     "data": {"name": "anom"},
     "transform": [{"filter": "datum.model === 'NEMO'"}],
     "mark": {"type": "line", "color": "black", "strokeWidth": 1.8},
     "encoding": {
      "x": {"field": "day", "type": "quantitative", "axis": null},
      "y": {"field": "value", "type": "quantitative", "axis": null},
      "color": {"field": "series", "type": "nominal",
                "scale": {"domain": ["Total","Horiz. advection","Surface heat flux","Residual"], "range": ["#1d3faf","#9400d3","#ff8000","#20f0a0"]},
                "legend": {"title": null, "orient": "none", "legendX": -41, "legendY": 246}},
      "strokeDash": {"field": "model", "type": "nominal",
                "scale": {"domain": ["GLORYS","NEMO"], "range": [[1,0],[5,3]]},
                "legend": {"title": null, "orient": "none", "legendX": 250, "legendY": 246, "symbolStrokeColor": "black"}}
     }
    },
    {
     "data": {"values": [{}]},
     "mark": {"type": "point", "opacity": 0},
     "encoding": {
      "x": {"datum": 0, "type": "quantitative", "axis": {"orient": "top", "values": [0,10,20,30,40,50], "labels": false, "grid": false, "title": null}},
      "y": {"datum": 0, "type": "quantitative", "axis": {"orient": "right", "values": [-0.5,0,0.5,1,1.5,2,2.5], "labels": false, "grid": false, "title": null}}
     }
    },
    {
     "data": {"values": [{}]},
     "mark": {"type": "point", "opacity": 0},
     "encoding": {
      "x": {"datum": 0, "type": "quantitative", "axis": null},
      "y": {"datum": 0, "type": "quantitative", "axis": {"orient": "left", "values": [-0.8,-0.7,-0.6,-0.4,-0.3,-0.2,-0.1,0.1,0.2,0.3,0.4,0.6,0.7,0.8,0.9,1.1,1.2,1.3,1.4,1.6,1.7,1.8,1.9,2.1,2.2,2.3,2.4], "labels": false, "grid": false, "title": null, "tickSize": 5}}
     }
    },
    {
     "data": {"values": [{}]},
     "mark": {"type": "point", "opacity": 0},
     "encoding": {
      "x": {"datum": 0, "type": "quantitative", "axis": null},
      "y": {"datum": 0, "type": "quantitative", "axis": {"orient": "right", "values": [-0.8,-0.7,-0.6,-0.4,-0.3,-0.2,-0.1,0.1,0.2,0.3,0.4,0.6,0.7,0.8,0.9,1.1,1.2,1.3,1.4,1.6,1.7,1.8,1.9,2.1,2.2,2.3,2.4], "labels": false, "grid": false, "title": null, "tickSize": 5}}
     }
    },
    {
     "data": {"values": [{}]},
     "mark": {"type": "rect", "fill": "white", "stroke": "#b4b4b4", "strokeWidth": 1},
     "encoding": {
      "x": {"datum": 0.5, "type": "quantitative", "axis": null}, "x2": {"datum": 3.25},
      "y": {"datum": 2.405, "type": "quantitative", "axis": null}, "y2": {"datum": 1.951}
     }
    },
    {
     "data": {"values": [{}]},
     "mark": {"type": "text", "text": "B", "fontSize": 22, "fontWeight": "bold", "align": "center", "baseline": "middle", "dy": 1},
     "encoding": {
      "x": {"datum": 1.875, "type": "quantitative", "axis": null},
      "y": {"datum": 2.178, "type": "quantitative", "axis": null}
     }
    }
   ],
   "resolve": {"axis": {"x": "independent", "y": "independent"}}
  },
  {
   "title": "Wind stress and specific hum. anomalies",
   "width": 472, "height": 177,
   "layer": [
    {
     "data": {"name": "wind"},
     "mark": {"type": "area", "color": "#9a9a9a"},
     "encoding": {
      "x": {"field": "day", "type": "quantitative", "scale": {"domain": [0, 59]},
            "axis": {"values": [0,10,20,30,40,50], "labelExpr": "['1 Jan','11 Jan','21 Jan','31 Jan','10 Feb','20 Feb'][round(datum.value/10)]", "title": null, "labelFlush": false}},
      "y": {"field": "lo", "type": "quantitative", "scale": {"domain": [-0.08, 0.245]},
            "axis": {"values": [-0.05,0,0.05,0.1,0.15,0.2], "format": ".2f", "title": "Wind stress (N m⁻²)"}},
      "y2": {"field": "hi"}
     }
    },
    {
     "data": {"values": [{}]},
     "mark": {"type": "rule", "color": "#1a1a90", "strokeWidth": 1},
     "encoding": {
      "x": {"datum": 0, "type": "quantitative", "axis": null}, "x2": {"datum": 59},
      "y": {"datum": 0, "type": "quantitative", "scale": {"domain": [-0.08, 0.245]}, "axis": null}
     }
    },
    {
     "data": {"name": "wind"},
     "mark": {"type": "line", "strokeWidth": 3.5},
     "encoding": {
      "x": {"field": "day", "type": "quantitative", "axis": null},
      "y": {"field": "ws", "type": "quantitative", "scale": {"domain": [-0.08, 0.245]}, "axis": null},
      "color": {"field": "var", "type": "nominal", "scale": {"domain": ["Wind stress","Specific hum."], "range": ["black","#1111cc"]},
                "legend": {"title": null, "orient": "none", "legendX": 282, "legendY": 246}},
      "strokeDash": {"field": "var", "type": "nominal", "scale": {"domain": ["Wind stress","Specific hum."], "range": [[4,2],[4,3]]},
                "legend": {"title": null, "orient": "none", "legendX": 282, "legendY": 246}}
     }
    },
    {
     "data": {"name": "hum"},
     "mark": {"type": "line", "strokeWidth": 1.6},
     "encoding": {
      "x": {"field": "day", "type": "quantitative", "axis": null},
      "y": {"field": "q", "type": "quantitative", "scale": {"domain": [-1.52, 4.55]},
            "axis": {"orient": "right", "values": [-1,0,1,2,3,4], "format": ".1f", "title": "Specific humidity (g kg⁻¹)", "labelColor": "#1111dd", "titleColor": "#1111dd", "titleAngle": 270, "titleBaseline": "top", "titlePadding": 10, "grid": false}},
      "color": {"field": "var", "type": "nominal", "scale": {"domain": ["Wind stress","Specific hum."], "range": ["black","#1111cc"]},
                "legend": {"title": null, "orient": "none", "legendX": 282, "legendY": 246}},
      "strokeDash": {"field": "var", "type": "nominal", "scale": {"domain": ["Wind stress","Specific hum."], "range": [[4,2],[4,3]]},
                "legend": {"title": null, "orient": "none", "legendX": 282, "legendY": 246}}
     }
    },
    {
     "data": {"values": [{}]},
     "mark": {"type": "point", "opacity": 0},
     "encoding": {
      "x": {"datum": 0, "type": "quantitative", "axis": {"orient": "top", "values": [0,10,20,30,40,50], "labels": false, "grid": false, "title": null}},
      "y": {"datum": 0, "type": "quantitative", "scale": {"domain": [-0.08, 0.245]}, "axis": {"orient": "left", "values": [-0.07,-0.06,-0.04,-0.03,-0.02,-0.01,0.01,0.02,0.03,0.04,0.06,0.07,0.08,0.09,0.11,0.12,0.13,0.14,0.16,0.17,0.18,0.19,0.21,0.22,0.23,0.24], "labels": false, "grid": false, "title": null, "tickSize": 5}}
     }
    },
    {
     "data": {"values": [{}]},
     "mark": {"type": "point", "opacity": 0},
     "encoding": {
      "x": {"datum": 0, "type": "quantitative", "axis": null},
      "y": {"datum": 0, "type": "quantitative", "scale": {"domain": [-1.52, 4.55]}, "axis": {"orient": "right", "values": [-1.4,-1.2,-0.8,-0.6,-0.4,-0.2,0.2,0.4,0.6,0.8,1.2,1.4,1.6,1.8,2.2,2.4,2.6,2.8,3.2,3.4,3.6,3.8,4.2,4.4], "labels": false, "grid": false, "title": null, "tickSize": 5}}
     }
    },
    {
     "data": {"values": [{}]},
     "mark": {"type": "rect", "fill": "white", "stroke": "#b4b4b4", "strokeWidth": 1},
     "encoding": {
      "x": {"datum": 0.5, "type": "quantitative", "axis": null}, "x2": {"datum": 3.25},
      "y": {"datum": 0.2358, "type": "quantitative", "scale": {"domain": [-0.08, 0.245]}, "axis": null}, "y2": {"datum": 0.1918}
     }
    },
    {
     "data": {"values": [{}]},
     "mark": {"type": "text", "text": "D", "fontSize": 22, "fontWeight": "bold", "align": "center", "baseline": "middle", "dy": 1},
     "encoding": {
      "x": {"datum": 1.875, "type": "quantitative", "axis": null},
      "y": {"datum": 0.2138, "type": "quantitative", "scale": {"domain": [-0.08, 0.245]}, "axis": null}
     }
    }
   ],
   "resolve": {"scale": {"y": "independent"}, "axis": {"x": "independent", "y": "independent"}}
  }
 ],
 "resolve": {
  "scale": {"color": "independent", "strokeDash": "independent"},
  "legend": {"color": "independent", "strokeDash": "independent"}
 },
 "config": {
  "font": "Liberation Sans",
  "view": {"stroke": "#8a8a8a", "strokeWidth": 1.3},
  "axis": {
   "domain": false, "grid": true, "gridDash": [11, 8], "gridColor": "#c4c4c4", "gridWidth": 1,
   "tickColor": "#7a7a7a", "tickSize": 11, "tickWidth": 1,
   "labelFont": "Liberation Sans", "labelFontSize": 16, "labelColor": "black", "labelPadding": 10,
   "titleFont": "Liberation Sans", "titleFontSize": 16, "titleFontWeight": "normal", "titleColor": "black", "titlePadding": 6
  },
  "axisX": {"labelFontSize": 14, "labelPadding": 9},
  "title": {"font": "Liberation Sans", "fontSize": 18, "fontWeight": "bold", "color": "black", "offset": 10},
  "legend": {
   "symbolType": "M-2,0H2", "symbolSize": 400, "symbolStrokeWidth": 4,
   "labelFont": "Liberation Sans", "labelFontSize": 16, "labelColor": "black", "labelOffset": 19,
   "rowPadding": 4, "direction": "vertical"
  }
 }
}
